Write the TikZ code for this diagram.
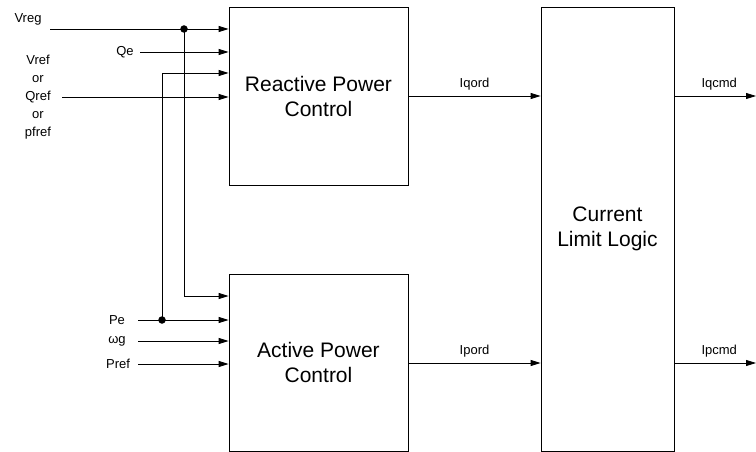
\documentclass[tikz,border=0pt]{standalone}
\usepackage{fontspec}
\setmainfont{Liberation Sans}
\usetikzlibrary{arrows.meta}
\begin{document}
\begin{tikzpicture}[x=1pt,y=-1pt,
  blk/.style={draw, line width=0.8pt, inner sep=0pt, align=center,
    font=\fontsize{21}{25}\selectfont},
  lbl/.style={font=\fontsize{13}{15}\selectfont, inner sep=0pt, align=center},
  sig/.style={line width=0.8pt, -{Triangle[length=10pt,width=6pt]}},
  wire/.style={line width=0.8pt},
  jdot/.style={circle, fill, inner sep=0pt, minimum size=7.5pt}]
\useasboundingbox (0,0) rectangle (756,452);
% blocks
\node[blk, minimum width=179pt, minimum height=178pt] (rpc) at (318.5,96) {Reactive Power\\Control};
\node[blk, minimum width=179pt, minimum height=177pt] (apc) at (318.5,362.5) {Active Power\\Control};
\node[blk, minimum width=133pt, minimum height=444pt] (cll) at (607.5,229) {Current\\Limit Logic};
% input labels
\node[lbl] (vreg) at (28,19) {Vreg};
\node[lbl] (qe) at (125,52) {Qe};
\node[lbl, font=\fontsize{13}{18}\selectfont] (vref) at (38,97) {Vref\\or\\Qref\\or\\pfref};
\node[lbl] (pe) at (117,320) {Pe};
\node[lbl] (wg) at (117,341) {ωg};
\node[lbl] (pref) at (118,364) {Pref};
% start points
\coordinate (svreg) at (50,29);
\coordinate (sqe) at (140,52);
\coordinate (sref) at (62,97);
\coordinate (spe) at (138,320);
\coordinate (swg) at (138,341);
\coordinate (spref) at (138,364);
\coordinate (b1) at (184,296);
\coordinate (b2) at (162,73);
\node[jdot] (d1) at (184,29) {};
\node[jdot] (d2) at (162,320) {};
% inputs
\draw[sig] (svreg) -- (rpc.west |- svreg);
\draw[sig] (sqe) -- (rpc.west |- sqe);
\draw[sig] (sref) -- (rpc.west |- sref);
\draw[sig] (d2.center) -- (b2) -- (rpc.west |- b2);
\draw[sig] (d1.center) -- (b1) -- (apc.west |- b1);
\draw[sig] (spe) -- (apc.west |- spe);
\draw[sig] (swg) -- (apc.west |- swg);
\draw[sig] (spref) -- (apc.west |- spref);
% outputs
\coordinate (yq) at (0,96);
\coordinate (yp) at (0,363);
\coordinate (qout) at (756,96);
\coordinate (pout) at (756,363);
\draw[sig] (rpc.east |- yq) -- node[lbl, above=5pt] (iqord) {Iqord} (cll.west |- yq);
\draw[sig] (apc.east |- yp) -- node[lbl, above=5pt] (ipord) {Ipord} (cll.west |- yp);
\draw[sig] (cll.east |- yq) -- node[lbl, above=5pt, xshift=4pt] (iqcmd) {Iqcmd} (qout);
\draw[sig] (cll.east |- yp) -- node[lbl, above=5pt, xshift=4pt] (ipcmd) {Ipcmd} (pout);
\end{tikzpicture}
\end{document}
